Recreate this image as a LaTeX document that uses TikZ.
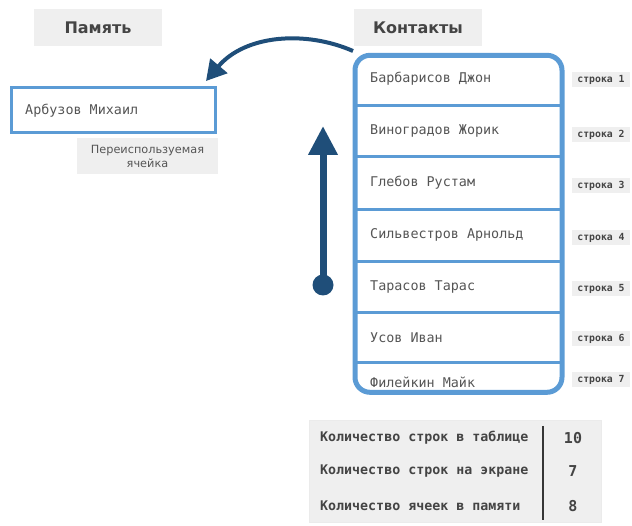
\documentclass[tikz,border=0pt]{standalone}
\usepackage{fontspec}
\setmainfont{DejaVu Sans}
\newfontfamily\monof{DejaVu Sans Mono}
\usetikzlibrary{arrows.meta}
\definecolor{frameblue}{HTML}{5B9BD5}
\definecolor{navy}{HTML}{1F4E79}
\definecolor{boxgray}{HTML}{EFEFEF}
\definecolor{txt}{HTML}{444444}
\definecolor{rtxt}{HTML}{555555}
\begin{document}
\begin{tikzpicture}[x=1pt,y=-1pt,
  title/.style={fill=boxgray, minimum width=128, minimum height=37, inner sep=0, font=\fontsize{16}{18}\selectfont\bfseries, text=txt},
  rowtxt/.style={anchor=west, inner sep=0, font=\monof\fontsize{13.4}{15}\selectfont, text=rtxt},
  rowlbl/.style={fill=boxgray, minimum width=58, minimum height=15, inner sep=0, font=\monof\bfseries\fontsize{9.8}{11}\selectfont, text=txt},
  sep/.style={frameblue, line width=3},
  stat/.style={anchor=west, inner sep=0, font=\monof\bfseries\fontsize{13.3}{15}\selectfont, text=txt},
  num/.style={inner sep=0, font=\monof\bfseries\fontsize{15}{17}\selectfont, text=txt}]
\useasboundingbox (0,0) rectangle (632,526);
% titles
\node[title] (mem) at (98,27.5) {Память};
\node[title] (cont) at (418,27.5) {Контакты};
% memory cell
\node[draw=frameblue, line width=3, minimum width=204, minimum height=45, inner sep=0] (cell) at (113,110) {};
\node[rowtxt] (celltxt) at (25,111) {Арбузов Михаил};
\node[fill=boxgray, minimum width=141, minimum height=36, inner sep=0, align=center,
  font=\fontsize{11.3}{14}\selectfont, text=rtxt] (reuse) at (147.5,156) {Переиспользуемая\\ячейка};
% contacts frame
\node[draw=frameblue, line width=5, rounded corners=15, minimum width=207, minimum height=337, inner sep=0] (frame) at (458.5,223.8) {};
\foreach \y in {106,157,210,262,313,363} \draw[sep] (357,\y) -- (560,\y);
\node[rowtxt] (r1) at (370,79) {Барбарисов Джон};
\node[rowtxt] (r2) at (370,131) {Виноградов Жорик};
\node[rowtxt] (r3) at (370,183) {Глебов Рустам};
\node[rowtxt] (r4) at (370,235) {Сильвестров Арнольд};
\node[rowtxt] (r5) at (370,287) {Тарасов Тарас};
\node[rowtxt] (r6) at (370,338) {Усов Иван};
\node[rowtxt] (r7) at (370,382) {Филейкин Майк};
\node[rowlbl] (l1) at (601,80) {строка 1};
\node[rowlbl] (l2) at (601,135) {строка 2};
\node[rowlbl] (l3) at (601,186) {строка 3};
\node[rowlbl] (l4) at (601,238) {строка 4};
\node[rowlbl] (l5) at (601,289) {строка 5};
\node[rowlbl] (l6) at (601,339) {строка 6};
\node[rowlbl] (l7) at (601,380) {строка 7};
% curved arrow
\coordinate (cs) at (353,51);
\coordinate (ce) at (206,81);
\draw[navy, line width=4, -{Triangle[length=20,width=22]}] (cs) .. controls (305,30) and (245,35) .. (ce);
% vertical arrow
\node[circle, fill=navy, minimum size=21, inner sep=0] (dot) at (323,285) {};
\coordinate (vtip) at (323,126);
\draw[navy, line width=7, -{Triangle[length=29,width=28]}] (dot.center) -- (vtip);
% stats table
\node[fill=boxgray, draw=black!8, minimum width=292, minimum height=102, inner sep=0] (stats) at (455,471) {};
\coordinate (va) at (543,426);
\coordinate (vb) at (543,520);
\draw[txt!80!black, line width=2] (va) -- (vb);
\node[stat] (s1) at (320,438) {Количество строк в таблице};
\node[stat] (s2) at (320,471) {Количество строк на экране};
\node[stat] (s3) at (320,506) {Количество ячеек в памяти};
\node[num] (n1) at (573,438) {10};
\node[num] (n2) at (573,471) {7};
\node[num] (n3) at (573,506) {8};
\end{tikzpicture}
\end{document}
